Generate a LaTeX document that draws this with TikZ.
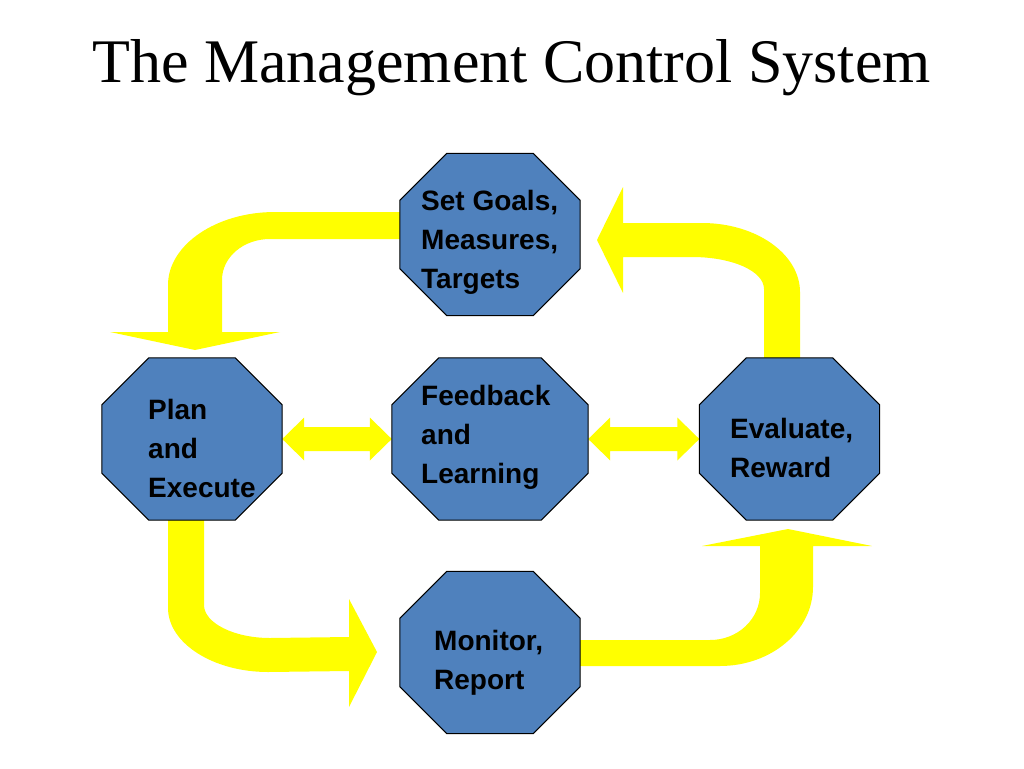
\documentclass[tikz,border=0pt]{standalone}
\usepackage{fontspec}
\setmainfont{Liberation Serif}
\newfontfamily\arialf{Liberation Sans}
\usetikzlibrary{calc}
\definecolor{octblue}{HTML}{4F81BD}
\definecolor{arrowyellow}{HTML}{FFFF00}
\tikzset{
  octbox/.style={rectangle, draw=none, inner sep=0pt, minimum width=180pt, minimum height=162pt},
  octshape/.style={fill=octblue, draw=black, line width=1pt, line join=miter},
  fatarrow/.style={fill=arrowyellow, draw=none},
  octlabel/.style={anchor=base west, inner sep=0pt, font=\arialf\bfseries\fontsize{28}{39}\selectfont},
  titletext/.style={anchor=base, inner sep=0pt, font=\fontsize{62}{70}\selectfont}
}
\newcommand\drawoctagon[1]{%
  \path[octshape] ($(#1.north west)+(47,0)$) -- ($(#1.north east)+(-47,0)$) --
    ($(#1.north east)+(0,47)$) -- ($(#1.south east)+(0,-47)$) --
    ($(#1.south east)+(-47,0)$) -- ($(#1.south west)+(47,0)$) --
    ($(#1.south west)+(0,-47)$) -- ($(#1.north west)+(0,47)$) -- cycle;}
\newcommand\dblarrow[2]{%
  \path[fatarrow] (#1) -- ($(#1)+(22,-21.5)$) -- ($(#1)+(22,-12)$) --
    ($(#2)+(-22,-12)$) -- ($(#2)+(-22,-21.5)$) -- (#2) --
    ($(#2)+(-22,21.5)$) -- ($(#2)+(-22,12)$) -- ($(#1)+(22,12)$) --
    ($(#1)+(22,21.5)$) -- cycle;}
\begin{document}
\begin{tikzpicture}[x=1pt,y=-1pt]
  \path[fill=white] (0,0) rectangle (1024,768);
  \useasboundingbox (0,0) rectangle (1024,768);

  % title
  \node[titletext] (title) at (511.5,82) {The Management Control System};

  % octagon frames (invisible boxes)
  \node[octbox] (goals) at (490,234.5) {};
  \node[octbox] (plan) at (192,439) {};
  \node[octbox, minimum width=196pt] (fb) at (490,439) {};
  \node[octbox] (eval) at (789.5,439) {};
  \node[octbox] (mon) at (490,652.5) {};

  % bent arrows
  % goals -> plan
  \path[fatarrow] (410,212) -- (275,212) .. controls (216,212) and (168,245) .. (168,285)
    -- (168,332) -- (110,332) -- (195,350) -- (280,332) -- (222,332) -- (222,280)
    .. controls (222,257) and (243.5,239) .. (270,239) -- (410,239) -- cycle;
  % eval -> goals
  \path[fatarrow] (764,365) -- (764,289) .. controls (764,271) and (732,257) .. (692,257)
    -- (623,257) -- (623,293) -- (597,240) -- (623,187) -- (623,223) -- (702,223)
    .. controls (756,223) and (800,254) .. (800,292) -- (800,365) -- cycle;
  % plan -> monitor
  \path[fatarrow] (168,512) -- (168,608) .. controls (168,643) and (213,672) .. (268,672)
    -- (349,671) -- (349,707) -- (377,652) -- (349,599) -- (349,637) -- (270,638)
    .. controls (234,638) and (204,623) .. (204,605) -- (204,512) -- cycle;
  % monitor -> eval
  \path[fatarrow] (570,640) -- (710,640) .. controls (738,640) and (760,619) .. (760,593)
    -- (760,546) -- (702,546) -- (788,529) -- (872,546) -- (813,546) -- (813,587)
    .. controls (813,631) and (771,666) .. (720,666) -- (570,666) -- cycle;

  % double arrows
  \dblarrow{plan.east}{fb.west}
  \dblarrow{fb.east}{eval.west}

  % octagons
  \drawoctagon{goals}
  \drawoctagon{plan}
  \drawoctagon{fb}
  \drawoctagon{eval}
  \drawoctagon{mon}

  % labels
  \node[octlabel] (goalsT) at (421,210) {\begin{tabular}[t]{@{}l@{}}Set Goals,\\Measures,\\Targets\end{tabular}};
  \node[octlabel] (planT) at (148,419) {\begin{tabular}[t]{@{}l@{}}Plan\\and\\Execute\end{tabular}};
  \node[octlabel] (fbT) at (421,405) {\begin{tabular}[t]{@{}l@{}}Feedback\\and\\Learning\end{tabular}};
  \node[octlabel] (evalT) at (730,438) {\begin{tabular}[t]{@{}l@{}}Evaluate,\\Reward\end{tabular}};
  \node[octlabel] (monT) at (434,650) {\begin{tabular}[t]{@{}l@{}}Monitor,\\Report\end{tabular}};
\end{tikzpicture}
\end{document}
